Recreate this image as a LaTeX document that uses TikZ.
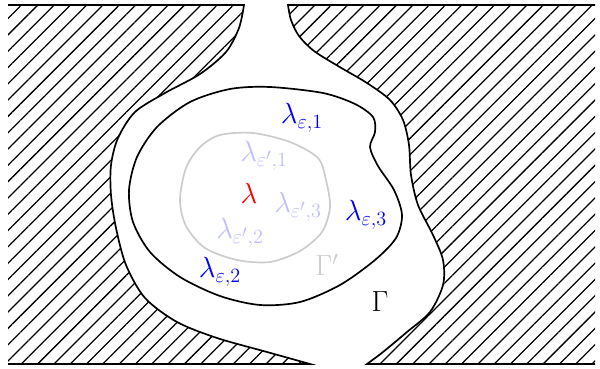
\documentclass[tikz,border=0pt]{standalone}
\usepackage{amsmath}
\usepackage{tikz}
\usetikzlibrary{patterns.meta}

\begin{document}
\begin{tikzpicture}[
      x=0.025cm, y=-0.025cm,
      wall/.style={pattern={Lines[angle=45, distance=8.2pt, line width=0.9pt]}},
      rim/.style={draw, line width=1.2pt},
      outer/.style={font=\huge, text=blue},
      inner/.style={font=\huge, text=blue!25},
    ]
      \useasboundingbox (0,0) rectangle (600,369);
      % hatched walls
      \fill[wall] (8,5) -- (244,5) -- plot[smooth] coordinates {(244,5) (239,28) (226,52) (200,74) (165,93) (135,112) (118,138) (111,165) (111,195) (116,228) (126,265) (145,298) (177,322) (217,338) (267,352) (310,364)} -- (8,364) -- cycle;
      \fill[wall] (595,5) -- (288,5) -- plot[smooth] coordinates {(288,5) (291,20) (299,36) (314,51) (338,66) (367,83) (390,100) (403,120) (409,145) (411,175) (418,205) (433,235) (443,260) (443,285) (430,312) (407,332) (383,352) (367,364)} -- (595,364) -- cycle;
      \draw[rim] (8,5) -- (244,5) -- plot[smooth] coordinates {(244,5) (239,28) (226,52) (200,74) (165,93) (135,112) (118,138) (111,165) (111,195) (116,228) (126,265) (145,298) (177,322) (217,338) (267,352) (310,364)} -- (8,364);
      \draw[rim] (595,5) -- (288,5) -- plot[smooth] coordinates {(288,5) (291,20) (299,36) (314,51) (338,66) (367,83) (390,100) (403,120) (409,145) (411,175) (418,205) (433,235) (443,260) (443,285) (430,312) (407,332) (383,352) (367,364)} -- (595,364);
      % curves Gamma and Gamma'
      \draw[rim] plot[smooth cycle] coordinates {(270,87) (323,93) (355,104) (373,117) (375,132) (370,147) (378,166) (394,190) (402,215) (396,238) (375,260) (340,285) (300,302) (260,305) (220,296) (180,277) (150,252) (133,222) (129,190) (137,157) (157,127) (190,102) (230,89)};
      \draw[line width=1.2pt, black!20] plot[smooth cycle] coordinates {(220,135) (253,133) (290,142) (318,158) (326,180) (330,207) (322,232) (300,251) (270,262) (237,260) (205,248) (186,226) (180,200) (186,168) (200,147)};
      % labels
      \node[outer] (e1) at (302,118) {$\lambda_{\varepsilon,1}$};
      \node[outer] (e2) at (220,272) {$\lambda_{\varepsilon,2}$};
      \node[outer] (e3) at (366,215) {$\lambda_{\varepsilon,3}$};
      \node[inner] (f1) at (264,156) {$\lambda_{\varepsilon',1}$};
      \node[inner] (f2) at (240,233) {$\lambda_{\varepsilon',2}$};
      \node[inner] (f3) at (298,207) {$\lambda_{\varepsilon',3}$};
      \node[font=\huge, text=red] (lam) at (249,193) {$\lambda$};
      \node[font=\huge] (gam) at (380,302) {$\Gamma$};
      \node[font=\huge, text=black!20] (gamp) at (327,265) {$\Gamma'$};
    \end{tikzpicture}
\end{document}
